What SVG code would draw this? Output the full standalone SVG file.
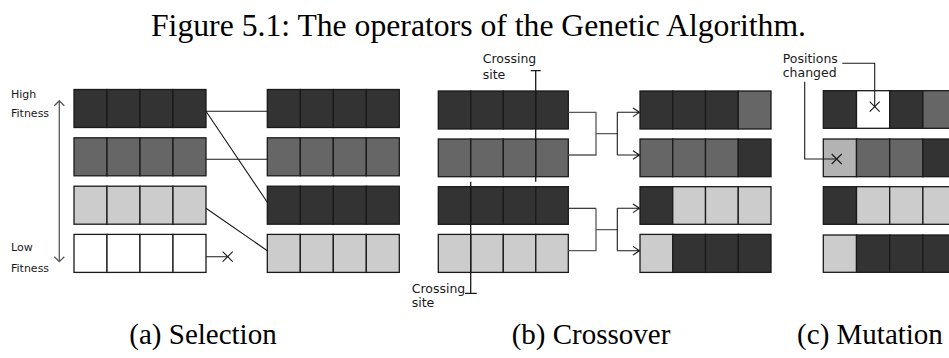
<svg xmlns="http://www.w3.org/2000/svg" width="949" height="358" viewBox="0 0 949 358">
<style>
rect{stroke:#1a1a1a;stroke-width:1.3}
.d{fill:#333333}.m{fill:#666666}.l{fill:#cccccc}.w{fill:#ffffff}.ll{fill:#b3b3b3}
.ln{fill:none;stroke:#1a1a1a;stroke-width:1.1}
.gr{fill:none;stroke:#595959;stroke-width:1.3}
.sm{font-family:"DejaVu Sans",sans-serif;font-size:11px;fill:#1a1a1a}
.lb{font-family:"DejaVu Sans",sans-serif;font-size:12.5px;fill:#1a1a1a}
.cap{font-family:"Liberation Serif",serif;font-size:29px;fill:#000;text-anchor:middle}
.tt{font-family:"Liberation Serif",serif;font-size:31.7px;fill:#000}
</style>
<rect x="0" y="0" width="949" height="358" style="fill:#fff;stroke:none"/>
<text class="tt" x="151" y="36">Figure 5.1: The operators of the Genetic Algorithm.</text>

<!-- Selection -->
<g id="sel-labels">
<text class="sm" x="11" y="98.3">High</text>
<text class="sm" x="11" y="116.7">Fitness</text>
<text class="sm" x="11" y="251">Low</text>
<text class="sm" x="11" y="272.3">Fitness</text>
<path class="gr" d="M59.3,101 V261.5 M54.3,105.7 L59.3,100.7 L64.3,105.7 M54.3,256.7 L59.3,261.7 L64.3,256.7"/>
</g>
<g id="sel-in-1"><rect class="d" x="74" y="89.5" width="33" height="38"/><rect class="d" x="107" y="89.5" width="33" height="38"/><rect class="d" x="140" y="89.5" width="33" height="38"/><rect class="d" x="173" y="89.5" width="33" height="38"/></g>
<g id="sel-in-2"><rect class="m" x="74" y="137.8" width="33" height="38"/><rect class="m" x="107" y="137.8" width="33" height="38"/><rect class="m" x="140" y="137.8" width="33" height="38"/><rect class="m" x="173" y="137.8" width="33" height="38"/></g>
<g id="sel-in-3"><rect class="l" x="74" y="186.2" width="33" height="38"/><rect class="l" x="107" y="186.2" width="33" height="38"/><rect class="l" x="140" y="186.2" width="33" height="38"/><rect class="l" x="173" y="186.2" width="33" height="38"/></g>
<g id="sel-in-4"><rect class="w" x="74" y="234.4" width="33" height="38"/><rect class="w" x="107" y="234.4" width="33" height="38"/><rect class="w" x="140" y="234.4" width="33" height="38"/><rect class="w" x="173" y="234.4" width="33" height="38"/></g>
<g id="sel-out-1"><rect class="d" x="267.3" y="89.5" width="33" height="38"/><rect class="d" x="300.3" y="89.5" width="33" height="38"/><rect class="d" x="333.3" y="89.5" width="33" height="38"/><rect class="d" x="366.3" y="89.5" width="33" height="38"/></g>
<g id="sel-out-2"><rect class="m" x="267.3" y="137.8" width="33" height="38"/><rect class="m" x="300.3" y="137.8" width="33" height="38"/><rect class="m" x="333.3" y="137.8" width="33" height="38"/><rect class="m" x="366.3" y="137.8" width="33" height="38"/></g>
<g id="sel-out-3"><rect class="d" x="267.3" y="186.2" width="33" height="38"/><rect class="d" x="300.3" y="186.2" width="33" height="38"/><rect class="d" x="333.3" y="186.2" width="33" height="38"/><rect class="d" x="366.3" y="186.2" width="33" height="38"/></g>
<g id="sel-out-4"><rect class="l" x="267.3" y="234.4" width="33" height="38"/><rect class="l" x="300.3" y="234.4" width="33" height="38"/><rect class="l" x="333.3" y="234.4" width="33" height="38"/><rect class="l" x="366.3" y="234.4" width="33" height="38"/></g>

<!-- Crossover -->
<g id="cx-in-1"><rect class="d" x="438.3" y="91" width="32.5" height="38"/><rect class="d" x="470.8" y="91" width="32.5" height="38"/><rect class="d" x="503.3" y="91" width="32.5" height="38"/><rect class="d" x="535.8" y="91" width="32.5" height="38"/></g>
<g id="cx-in-2"><rect class="m" x="438.3" y="139" width="32.5" height="37.7"/><rect class="m" x="470.8" y="139" width="32.5" height="37.7"/><rect class="m" x="503.3" y="139" width="32.5" height="37.7"/><rect class="m" x="535.8" y="139" width="32.5" height="37.7"/></g>
<g id="cx-in-3"><rect class="d" x="438.3" y="186.7" width="32.5" height="37.6"/><rect class="d" x="470.8" y="186.7" width="32.5" height="37.6"/><rect class="d" x="503.3" y="186.7" width="32.5" height="37.6"/><rect class="d" x="535.8" y="186.7" width="32.5" height="37.6"/></g>
<g id="cx-in-4"><rect class="l" x="438.3" y="234.4" width="32.5" height="38"/><rect class="l" x="470.8" y="234.4" width="32.5" height="38"/><rect class="l" x="503.3" y="234.4" width="32.5" height="38"/><rect class="l" x="535.8" y="234.4" width="32.5" height="38"/></g>
<g id="cx-out-1"><rect class="d" x="640" y="91" width="32.75" height="38"/><rect class="d" x="672.75" y="91" width="32.75" height="38"/><rect class="d" x="705.5" y="91" width="32.75" height="38"/><rect class="m" x="738.25" y="91" width="32.75" height="38"/></g>
<g id="cx-out-2"><rect class="m" x="640" y="139" width="32.75" height="37.7"/><rect class="m" x="672.75" y="139" width="32.75" height="37.7"/><rect class="m" x="705.5" y="139" width="32.75" height="37.7"/><rect class="d" x="738.25" y="139" width="32.75" height="37.7"/></g>
<g id="cx-out-3"><rect class="d" x="640" y="186.7" width="32.75" height="37.6"/><rect class="l" x="672.75" y="186.7" width="32.75" height="37.6"/><rect class="l" x="705.5" y="186.7" width="32.75" height="37.6"/><rect class="l" x="738.25" y="186.7" width="32.75" height="37.6"/></g>
<g id="cx-out-4"><rect class="l" x="640" y="234.4" width="32.75" height="38"/><rect class="d" x="672.75" y="234.4" width="32.75" height="38"/><rect class="d" x="705.5" y="234.4" width="32.75" height="38"/><rect class="d" x="738.25" y="234.4" width="32.75" height="38"/></g>
<g id="cx-site-top">
<text class="lb" x="482.7" y="63.3">Crossing</text>
<text class="lb" x="482.7" y="79.3">site</text>
<path class="ln" style="stroke-width:1.3" d="M535.7,70.7 V181.7 M530.7,70.7 H540.7"/>
</g>
<g id="cx-site-bottom">
<text class="lb" x="411.7" y="293">Crossing</text>
<text class="lb" x="411.7" y="307.3">site</text>
<path class="ln" style="stroke-width:1.3" d="M470.7,181.7 V293.3 M465,293.3 H476.7"/>
</g>

<!-- Mutation -->
<g id="mut-1"><rect class="d" x="823.3" y="90.7" width="33.2" height="37.6"/><rect class="w" x="856.5" y="90.7" width="33.2" height="37.6"/><rect class="d" x="889.7" y="90.7" width="33.2" height="37.6"/><rect class="m" x="922.9" y="90.7" width="33.2" height="37.6"/>
<path class="ln" d="M869.7,101.7 L879.7,111.7 M869.7,111.7 L879.7,101.7"/></g>
<g id="mut-2"><rect class="ll" x="823.3" y="139" width="33.2" height="37.7"/><rect class="m" x="856.5" y="139" width="33.2" height="37.7"/><rect class="m" x="889.7" y="139" width="33.2" height="37.7"/><rect class="d" x="922.9" y="139" width="33.2" height="37.7"/>
<path class="ln" d="M831.7,154 L841.7,164 M831.7,164 L841.7,154"/></g>
<g id="mut-3"><rect class="d" x="823.3" y="186.7" width="33.2" height="37.6"/><rect class="l" x="856.5" y="186.7" width="33.2" height="37.6"/><rect class="l" x="889.7" y="186.7" width="33.2" height="37.6"/><rect class="l" x="922.9" y="186.7" width="33.2" height="37.6"/></g>
<g id="mut-4"><rect class="l" x="823.3" y="235" width="33.2" height="37.3"/><rect class="d" x="856.5" y="235" width="33.2" height="37.3"/><rect class="d" x="889.7" y="235" width="33.2" height="37.3"/><rect class="d" x="922.9" y="235" width="33.2" height="37.3"/></g>
<g id="mut-label">
<text class="lb" x="782.7" y="62.7">Positions</text>
<text class="lb" x="782.7" y="77.3">changed</text>
</g>

<!-- Connectors -->
<g id="connectors">
<path class="ln" d="M206,111.3 H267.3 M206,159.3 H267.3 M206,111.3 L267.3,202.3 M206,208.3 L267.3,250.7 M206,256.7 H227.7"/>
<path class="ln" d="M222.7,251.7 L232.7,261.7 M222.7,261.7 L232.7,251.7"/>
<path class="gr" d="M568.3,112.3 H596 V155 H568.3 M596,133.7 H617.3"/>
<path class="ln" d="M617.3,112.3 V155 M617.3,112.3 H639.5 M617.3,155 H639.5 M633,108 L639.5,112.3 L633,116.6 M633,150.7 L639.5,155 L633,159.3"/>
<path class="ln" d="M568.3,208.3 H596"/>
<path class="gr" d="M596,208.3 V250.7 H568.3 M596,229.7 H617.3"/>
<path class="ln" d="M617.3,208.3 V250.7 M617.3,208.3 H639.5 M617.3,250.7 H639.5 M633,204 L639.5,208.3 L633,212.6 M633,246.4 L639.5,250.7 L633,255"/>
<path class="ln" d="M842.3,63.3 H874.7 V106.7 M804.7,81.7 V159 H836.7"/>
</g>

<g id="captions">
<text class="cap" x="203" y="344">(a) Selection</text>
<text class="cap" x="591" y="344">(b) Crossover</text>
<text class="cap" x="870" y="344">(c) Mutation</text>
</g>
</svg>
